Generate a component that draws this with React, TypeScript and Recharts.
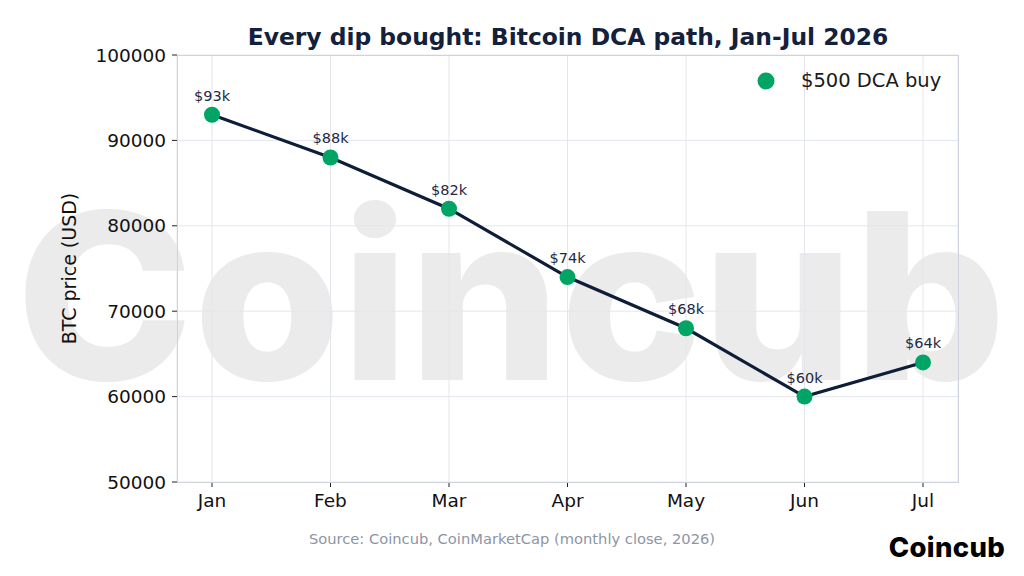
import {
  LineChart,
  Line,
  XAxis,
  YAxis,
  CartesianGrid,
  LabelList,
} from 'recharts';

// Monthly close where the $500 buy happened
const months = ['Jan', 'Feb', 'Mar', 'Apr', 'May', 'Jun', 'Jul'];
const prices = [93000, 88000, 82000, 74000, 68000, 60000, 64000];
const priceLabels = ['$93k', '$88k', '$82k', '$74k', '$68k', '$60k', '$64k'];
const yTicks = [50000, 60000, 70000, 80000, 90000, 100000];

const data = months.map((m, i) => ({ month: m, price: prices[i], label: priceLabels[i] }));

const NAVY = '#0e1d38';
const GREEN = '#00a566';
const FONT = '"DejaVu Sans", sans-serif';

export default function App() {
  return (
    <div style={{ position: 'absolute', left: 0, top: 0, width: 1024, height: 576, background: '#fff', overflow: 'hidden' }}>
      {/* watermark */}
      <svg width={1024} height={576} style={{ position: 'absolute', left: 0, top: 0 }}>
        <text
          x={16}
          y={380}
          textLength={990}
          lengthAdjust="spacingAndGlyphs"
          fontFamily="Inter, sans-serif"
          fontWeight={800}
          fontSize={232}
          fill="#ebebeb"
        >
          Coincub
        </text>
      </svg>

      <div style={{ position: 'absolute', left: 0, top: 0 }}>
        <LineChart width={1024} height={576} data={data} margin={{ top: 55, right: 66, bottom: 64, left: 0 }}>
          <CartesianGrid stroke="#e4e6ee" strokeWidth={1} />
          <XAxis
            dataKey="month"
            height={30}
            padding={{ left: 35, right: 35 }}
            axisLine={false}
            tickSize={5}
            tickMargin={7}
            tickLine={{ stroke: '#222' }}
            tick={{ fontSize: 18.5, fill: '#111', fontFamily: FONT }}
          />
          <YAxis
            width={177}
            domain={[50000, 100000]}
            ticks={yTicks}
            axisLine={false}
            tickSize={5}
            tickMargin={6}
            tickLine={{ stroke: '#222' }}
            tick={{ fontSize: 18.5, fill: '#111', fontFamily: FONT }}
            label={{
              value: 'BTC price (USD)',
              angle: -90,
              position: 'insideLeft',
              dx: 64,
              style: { fontSize: 19, fill: '#111', fontFamily: FONT, textAnchor: 'middle' },
            }}
          />
          <Line
            dataKey="price"
            name="$500 DCA buy"
            type="linear"
            stroke={NAVY}
            strokeWidth={3.2}
            dot={{ r: 8, fill: GREEN, stroke: GREEN, strokeWidth: 0 }}
            activeDot={false}
            isAnimationActive={false}
          >
            <LabelList
              dataKey="label"
              position="top"
              offset={14}
              style={{ fontSize: 14.5, fill: '#1e2a45', fontFamily: FONT }}
            />
          </Line>
        </LineChart>
      </div>

      {/* plot frame */}
      <div
        style={{
          position: 'absolute',
          left: 177,
          top: 55,
          width: 782,
          height: 428,
          border: '1px solid #cfd2e0',
          boxSizing: 'border-box',
          pointerEvents: 'none',
        }}
      />

      {/* legend */}
      <div
        style={{
          position: 'absolute',
          left: 757,
          top: 69,
          display: 'flex',
          alignItems: 'center',
          fontFamily: FONT,
          fontSize: 19.5,
          color: '#1a1a1a',
        }}
      >
        <svg width={18} height={18} style={{ marginRight: 26 }}>
          <circle cx={9} cy={9} r={8.5} fill={GREEN} />
        </svg>
        <span>$500 DCA buy</span>
      </div>

      <div
        style={{
          position: 'absolute',
          left: 177,
          width: 782,
          top: 23,
          textAlign: 'center',
          fontFamily: FONT,
          fontWeight: 700,
          fontSize: 23.4,
          color: '#13213d',
        }}
      >
        Every dip bought: Bitcoin DCA path, Jan-Jul 2026
      </div>

      <div
        style={{
          position: 'absolute',
          left: 0,
          width: 1024,
          top: 530,
          textAlign: 'center',
          fontFamily: FONT,
          fontSize: 14.7,
          color: '#8c95a6',
        }}
      >
        Source: Coincub, CoinMarketCap (monthly close, 2026)
      </div>

      <div
        style={{
          position: 'absolute',
          right: 19,
          top: 530,
          fontFamily: 'Inter, sans-serif',
          fontWeight: 800,
          fontSize: 27.5,
          color: '#000',
          letterSpacing: 0.3,
        }}
      >
        Coincub
      </div>
    </div>
  );
}
